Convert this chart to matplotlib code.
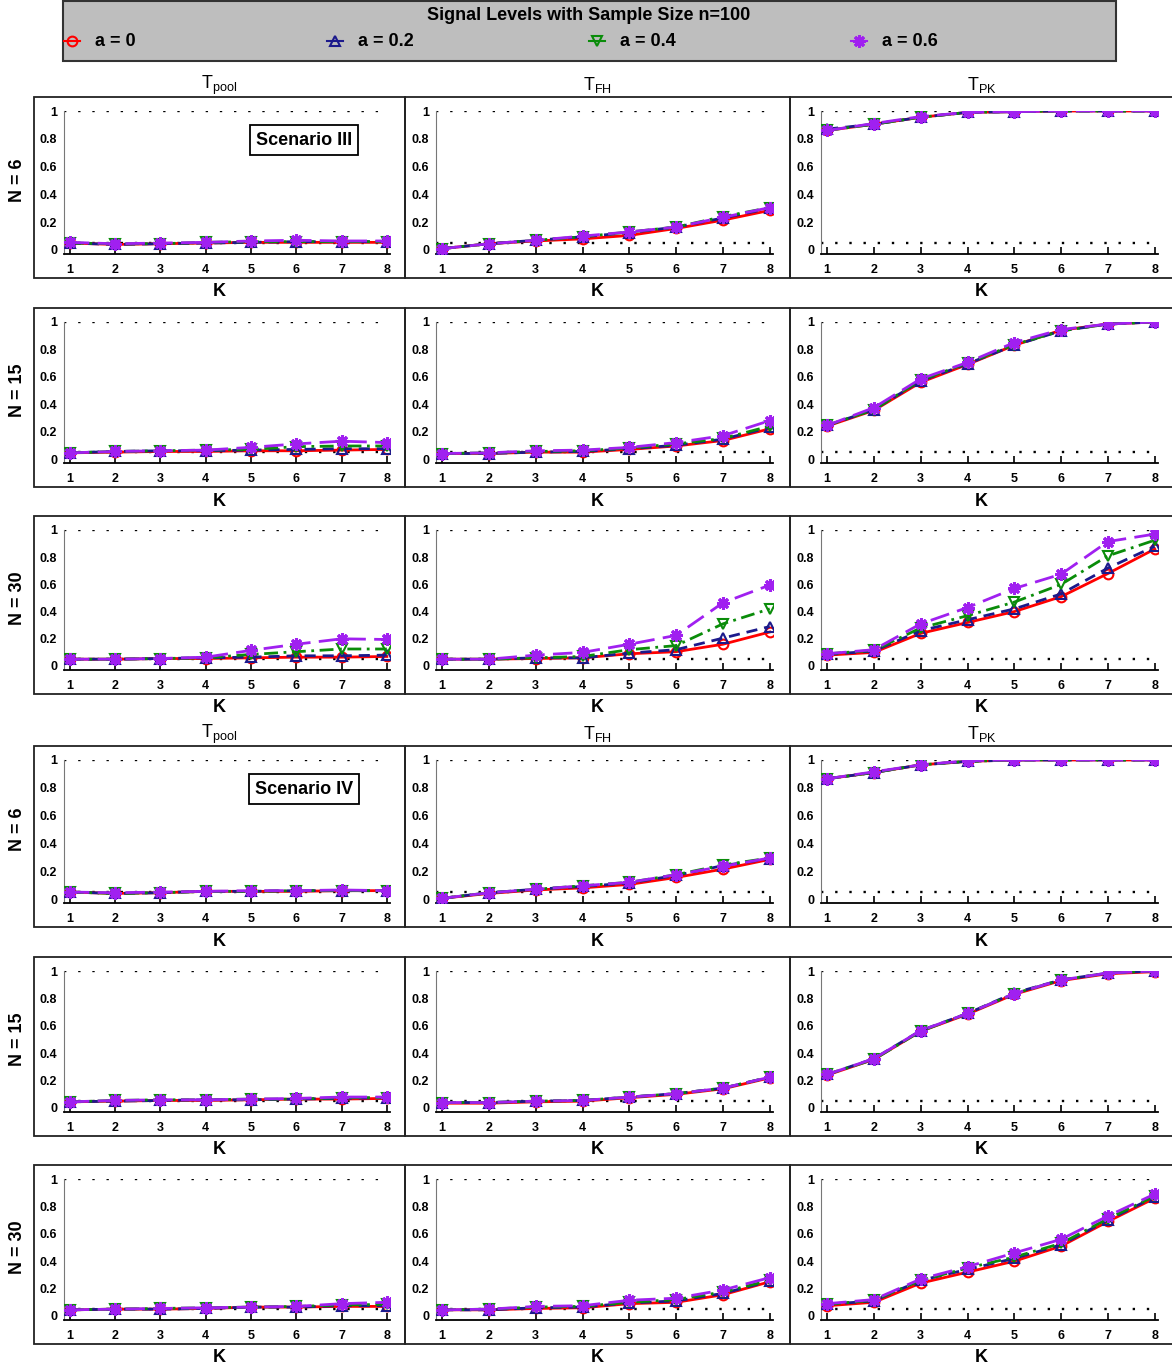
import numpy as np
import matplotlib
matplotlib.use('Agg')
import matplotlib.pyplot as plt
from matplotlib.patches import Rectangle
from matplotlib.lines import Line2D

plt.rcParams['font.family'] = ['Liberation Sans', 'DejaVu Sans']
plt.rcParams['mathtext.default'] = 'regular'

# ---- data ----
k_values = [1, 2, 3, 4, 5, 6, 7, 8]
a_labels = ['a = 0', 'a = 0.2', 'a = 0.4', 'a = 0.6']
test_titles = [r'T$_{pool}$', r'T$_{FH}$', r'T$_{PK}$']
row_labels = ['N = 6', 'N = 15', 'N = 30']
scenario_names = ['Scenario III', 'Scenario IV']

# Scenario III (each: a=0, a=0.2, a=0.4, a=0.6)
s3_n6_pool = [[0.05, 0.04, 0.045, 0.05, 0.055, 0.055, 0.055, 0.055],
              [0.05, 0.04, 0.045, 0.05, 0.055, 0.06, 0.06, 0.06],
              [0.05, 0.045, 0.045, 0.055, 0.06, 0.06, 0.06, 0.06],
              [0.055, 0.045, 0.05, 0.055, 0.065, 0.07, 0.065, 0.065]]
s3_n6_fh = [[0.01, 0.045, 0.065, 0.08, 0.105, 0.155, 0.215, 0.285],
            [0.01, 0.045, 0.07, 0.095, 0.125, 0.165, 0.23, 0.30],
            [0.01, 0.045, 0.07, 0.095, 0.13, 0.165, 0.24, 0.305],
            [0.01, 0.045, 0.07, 0.10, 0.13, 0.165, 0.235, 0.305]]
s3_n6_pk = [[0.86, 0.905, 0.955, 0.99, 0.995, 1.0, 1.0, 1.0],
            [0.87, 0.905, 0.955, 0.99, 0.995, 1.0, 1.0, 1.0],
            [0.86, 0.905, 0.955, 0.99, 0.995, 1.0, 1.0, 1.0],
            [0.86, 0.91, 0.96, 0.99, 0.995, 1.0, 1.0, 1.0]]
s3_n15_pool = [[0.045, 0.05, 0.055, 0.055, 0.06, 0.06, 0.065, 0.07],
               [0.045, 0.055, 0.06, 0.06, 0.065, 0.07, 0.075, 0.075],
               [0.045, 0.055, 0.06, 0.065, 0.07, 0.09, 0.095, 0.095],
               [0.045, 0.055, 0.06, 0.065, 0.085, 0.11, 0.13, 0.12]]
s3_n15_fh = [[0.04, 0.04, 0.05, 0.05, 0.07, 0.095, 0.135, 0.22],
             [0.04, 0.04, 0.05, 0.055, 0.075, 0.10, 0.145, 0.23],
             [0.04, 0.045, 0.055, 0.06, 0.08, 0.11, 0.15, 0.24],
             [0.04, 0.045, 0.06, 0.065, 0.085, 0.12, 0.17, 0.28]]
s3_n15_pk = [[0.24, 0.355, 0.56, 0.69, 0.83, 0.94, 0.985, 1.0],
             [0.245, 0.36, 0.57, 0.695, 0.83, 0.935, 0.985, 1.0],
             [0.245, 0.36, 0.575, 0.70, 0.835, 0.935, 0.985, 1.0],
             [0.245, 0.375, 0.585, 0.705, 0.85, 0.945, 0.985, 1.0]]
s3_n30_pool = [[0.05, 0.05, 0.055, 0.055, 0.06, 0.065, 0.065, 0.07],
               [0.05, 0.05, 0.055, 0.06, 0.065, 0.075, 0.075, 0.08],
               [0.05, 0.05, 0.055, 0.06, 0.085, 0.105, 0.125, 0.125],
               [0.05, 0.05, 0.055, 0.065, 0.115, 0.16, 0.20, 0.195]]
s3_n30_fh = [[0.05, 0.05, 0.055, 0.06, 0.09, 0.105, 0.16, 0.25],
             [0.05, 0.05, 0.06, 0.06, 0.095, 0.12, 0.205, 0.29],
             [0.05, 0.05, 0.06, 0.07, 0.12, 0.15, 0.31, 0.42],
             [0.05, 0.05, 0.08, 0.10, 0.16, 0.225, 0.465, 0.595]]
s3_n30_pk = [[0.08, 0.10, 0.24, 0.32, 0.40, 0.51, 0.68, 0.86],
             [0.085, 0.11, 0.26, 0.34, 0.42, 0.53, 0.72, 0.88],
             [0.09, 0.115, 0.28, 0.37, 0.47, 0.60, 0.81, 0.925],
             [0.09, 0.12, 0.31, 0.43, 0.57, 0.675, 0.915, 0.97]]

# Scenario IV
s4_n6_pool = [[0.05, 0.04, 0.045, 0.055, 0.055, 0.055, 0.06, 0.06],
              [0.05, 0.04, 0.045, 0.055, 0.055, 0.06, 0.06, 0.06],
              [0.05, 0.04, 0.045, 0.055, 0.055, 0.06, 0.06, 0.06],
              [0.05, 0.045, 0.05, 0.055, 0.06, 0.06, 0.065, 0.06]]
s4_n6_fh = [[0.005, 0.04, 0.065, 0.08, 0.105, 0.155, 0.215, 0.285],
            [0.005, 0.045, 0.07, 0.09, 0.115, 0.17, 0.24, 0.29],
            [0.005, 0.045, 0.07, 0.095, 0.12, 0.175, 0.245, 0.295],
            [0.005, 0.045, 0.07, 0.095, 0.12, 0.175, 0.235, 0.295]]
s4_n6_pk = [[0.865, 0.91, 0.965, 0.99, 1.0, 1.0, 1.0, 1.0],
            [0.865, 0.91, 0.965, 0.99, 1.0, 1.0, 1.0, 1.0],
            [0.865, 0.91, 0.965, 0.99, 1.0, 1.0, 1.0, 1.0],
            [0.865, 0.915, 0.965, 0.995, 1.0, 1.0, 1.0, 1.0]]
s4_n15_pool = [[0.045, 0.05, 0.055, 0.055, 0.06, 0.065, 0.065, 0.07],
               [0.045, 0.05, 0.055, 0.06, 0.06, 0.065, 0.07, 0.075],
               [0.045, 0.055, 0.06, 0.06, 0.065, 0.065, 0.075, 0.075],
               [0.045, 0.055, 0.06, 0.06, 0.065, 0.07, 0.08, 0.08]]
s4_n15_fh = [[0.035, 0.035, 0.045, 0.05, 0.075, 0.10, 0.14, 0.22],
             [0.04, 0.04, 0.05, 0.055, 0.08, 0.105, 0.145, 0.225],
             [0.04, 0.04, 0.05, 0.055, 0.08, 0.105, 0.145, 0.225],
             [0.04, 0.04, 0.05, 0.055, 0.08, 0.105, 0.145, 0.225]]
s4_n15_pk = [[0.24, 0.355, 0.56, 0.685, 0.83, 0.93, 0.98, 0.995],
             [0.245, 0.36, 0.565, 0.69, 0.84, 0.935, 0.985, 1.0],
             [0.245, 0.355, 0.56, 0.69, 0.835, 0.935, 0.985, 1.0],
             [0.245, 0.36, 0.565, 0.69, 0.835, 0.935, 0.985, 1.0]]
s4_n30_pool = [[0.045, 0.05, 0.05, 0.055, 0.065, 0.065, 0.07, 0.07],
               [0.045, 0.05, 0.05, 0.055, 0.065, 0.065, 0.075, 0.075],
               [0.045, 0.05, 0.055, 0.06, 0.065, 0.07, 0.08, 0.085],
               [0.045, 0.05, 0.055, 0.06, 0.065, 0.07, 0.09, 0.10]]
s4_n30_fh = [[0.045, 0.045, 0.055, 0.06, 0.09, 0.10, 0.155, 0.25],
             [0.045, 0.045, 0.06, 0.065, 0.095, 0.11, 0.165, 0.255],
             [0.045, 0.05, 0.065, 0.07, 0.10, 0.12, 0.175, 0.26],
             [0.045, 0.05, 0.07, 0.075, 0.115, 0.13, 0.19, 0.28]]
s4_n30_pk = [[0.075, 0.10, 0.24, 0.32, 0.40, 0.51, 0.69, 0.86],
             [0.085, 0.11, 0.26, 0.34, 0.42, 0.52, 0.70, 0.87],
             [0.085, 0.115, 0.26, 0.35, 0.43, 0.53, 0.71, 0.875],
             [0.09, 0.12, 0.27, 0.36, 0.46, 0.56, 0.73, 0.89]]

panels = [[s3_n6_pool, s3_n6_fh, s3_n6_pk],
          [s3_n15_pool, s3_n15_fh, s3_n15_pk],
          [s3_n30_pool, s3_n30_fh, s3_n30_pk],
          [s4_n6_pool, s4_n6_fh, s4_n6_pk],
          [s4_n15_pool, s4_n15_fh, s4_n15_pk],
          [s4_n30_pool, s4_n30_fh, s4_n30_pk]]

# ---- styles ----
colors = ['#ff0000', '#1c1a8c', '#0a8c0a', '#a020f0']
linestyles = ['-', (0, (4, 2.5)), (0, (5, 2, 1, 2)), (0, (7, 3))]
markers = ['o', '^', 'v', (8, 2, 0)]

W, H = 1172, 1364
fig = plt.figure(figsize=(W / 100, H / 100), dpi=100)


def fx(px):
    return px / W


def fy(py):
    return 1 - py / H


col_frames = [(34, 405), (405, 790), (790, 1174)]
col_axes = [(64, 390), (436, 773), (821, 1158)]
row_y1 = [111, 322, 530, 760, 971, 1179]
row_y0 = [250, 459, 666, 899, 1108, 1316]

for r in range(6):
    y1, y0 = row_y1[r], row_y0[r]
    ybot = y0 + 0.03 * (y0 - y1)
    for c in range(3):
        fl, fr = col_frames[c]
        fig.add_artist(Rectangle((fx(fl), fy(y0 + 28)), fx(fr - fl), (y0 + 28 - (y1 - 14)) / H,
                                 transform=fig.transFigure, fill=False,
                                 edgecolor='#222222', linewidth=1.3))
        al, ar = col_axes[c]
        ax = fig.add_axes([fx(al), fy(ybot), fx(ar - al), (ybot - y1) / H])
        ax.set_xlim(0.87, 8.07)
        ax.set_ylim(-0.03, 1.0)
        ax.patch.set_alpha(0)
        for s in ['top', 'right']:
            ax.spines[s].set_visible(False)
        ax.spines['left'].set_color('#777777')
        ax.spines['left'].set_bounds(-0.03, 1.0)
        ax.spines['bottom'].set_linewidth(1.3)
        ax.plot([0.87, 8.0], [1, 1], color='black', linestyle=(0, (1, 5)), linewidth=1.7)
        ax.plot([0.87, 8.0], [0.05, 0.05], color='black', linestyle=(0, (1, 5)), linewidth=1.7)
        for i in range(4):
            mfc = colors[i] if i == 3 else 'none'
            ax.plot(k_values, panels[r][c][i], color=colors[i], linestyle=linestyles[i],
                    linewidth=2, marker=markers[i], markersize=7 if i < 3 else 9,
                    markerfacecolor=mfc, markeredgecolor=colors[i],
                    markeredgewidth=1.5 if i < 3 else 2.2, zorder=3 + i)
        ax.set_xticks(k_values)
        ax.set_yticks([0, 0.2, 0.4, 0.6, 0.8, 1])
        ax.set_yticklabels(['0', '0.2', '0.4', '0.6', '0.8', '1'])
        ax.tick_params(axis='x', direction='in', length=5, width=1.2, pad=7,
                       labelsize=9)
        ax.tick_params(axis='y', length=0, pad=5, labelsize=9)
        for lab in ax.get_xticklabels() + ax.get_yticklabels():
            lab.set_fontweight('bold')
        # K label
        fig.text(fx((fl + min(fr, 1172)) / 2), fy(y0 + 42), 'K',
                 ha='center', va='center', fontsize=13, fontweight='bold')
        if r % 3 == 0:
            fig.text(fx((fl + fr) / 2 if c < 2 else 982), fy(y1 - 26), test_titles[c],
                     ha='center', va='center', fontsize=13)
        if c == 0 and r % 3 == 0:
            ax.text(6.17, 0.79, scenario_names[r // 3], ha='center', va='center',
                    fontsize=13, fontweight='bold',
                    bbox=dict(boxstyle='square,pad=0.35', facecolor='white',
                              edgecolor='black', linewidth=1.3))
    fig.text(fx(17), fy((y1 + y0) / 2), row_labels[r % 3], rotation=90,
             ha='center', va='center', fontsize=13, fontweight='bold')

# ---- legend box ----
fig.add_artist(Rectangle((fx(63), fy(61)), fx(1116 - 63), 60 / H, transform=fig.transFigure,
                         facecolor='#bebebe', edgecolor='#333333', linewidth=1.5))
fig.text(fx(589), fy(15), 'Signal Levels with Sample Size n=100', ha='center', va='center',
         fontsize=13, fontweight='bold')
leg_x = [72, 335, 597, 859]
for i in range(4):
    x = leg_x[i]
    fig.add_artist(Line2D([fx(x - 8), fx(x + 8)], [fy(41), fy(41)], transform=fig.transFigure,
                          color=colors[i], linewidth=1.5))
    fig.add_artist(Line2D([fx(x)], [fy(41)], transform=fig.transFigure,
                          marker=markers[i], markersize=7 if i < 3 else 9,
                          markerfacecolor='none', markeredgecolor=colors[i],
                          markeredgewidth=1.5 if i < 3 else 2.2, linestyle='none'))
    fig.text(fx(x + 23), fy(41), a_labels[i], ha='left', va='center',
             fontsize=13, fontweight='bold')

fig.savefig('out.png', dpi=100)
